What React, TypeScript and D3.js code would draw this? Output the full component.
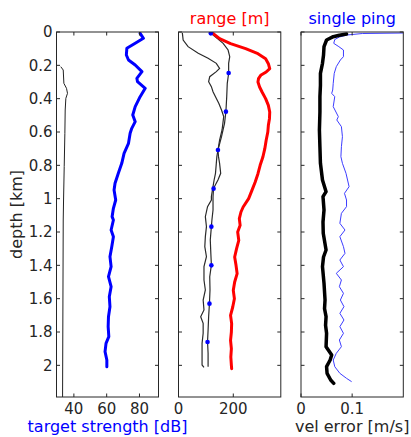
import React from 'react';
import * as d3 from 'd3';

// ---- data (depth km, value) ----
const depthTicks = [0, 0.2, 0.4, 0.6, 0.8, 1, 1.2, 1.4, 1.6, 1.8, 2];
const depthTickLabels = ['0', '0.2', '0.4', '0.6', '0.8', '1', '1.2', '1.4', '1.6', '1.8', '2'];

const tsTicks = [40, 60, 80];
const rangeTicks = [0, 200];
const velTicks = [0, 0.1];
const velTickLabels = ['0', '0.1'];

const targetStrength: [number, number][] = [
  [0.008, 80.4], [0.038, 82.4], [0.068, 77.4], [0.098, 72.3], [0.138, 72], [0.168, 73.3],
  [0.198, 77.4], [0.238, 81.5], [0.278, 78.4], [0.298, 78.8], [0.338, 83.5], [0.388, 80.4],
  [0.448, 77.4], [0.498, 75.9], [0.538, 77.4], [0.578, 75.3], [0.608, 74.3], [0.668, 73.3],
  [0.728, 70.6], [0.788, 69.2], [0.848, 67.1], [0.908, 65.1], [0.948, 64.5], [1.008, 65.5],
  [1.058, 64.1], [1.108, 63.3], [1.128, 64.1], [1.188, 62.7], [1.228, 64.1], [1.288, 63.1],
  [1.348, 62], [1.408, 62.7], [1.468, 61.1], [1.528, 62.7], [1.588, 61.6], [1.648, 62],
  [1.708, 61.1], [1.768, 60.9], [1.828, 61.3], [1.868, 59.6], [1.918, 59], [1.968, 60.1],
  [2.008, 60.1],
];

const tsThin: [number, number][] = [
  [0.208, 32.0], [0.228, 33.5], [0.308, 33.9], [0.338, 35.5], [0.368, 36.1], [0.398, 35.1],
  [0.468, 34.7], [0.608, 34.5], [0.808, 34.1], [1.008, 33.7], [1.128, 33.5], [2.19, 33.1],
];

const rangeRed: [number, number][] = [
  [0.01, 127], [0.04, 150], [0.07, 190], [0.1, 245], [0.13, 290], [0.16, 318], [0.19, 328],
  [0.22, 333], [0.24, 320], [0.26, 300], [0.28, 292], [0.3, 290], [0.33, 296], [0.36, 305],
  [0.4, 318], [0.44, 328], [0.48, 333], [0.52, 332], [0.56, 328], [0.6, 326], [0.65, 320],
  [0.7, 315], [0.75, 308], [0.8, 298], [0.85, 290], [0.9, 280], [0.95, 268], [1.0, 256],
  [1.05, 236], [1.08, 228], [1.12, 222], [1.16, 225], [1.2, 216], [1.25, 220], [1.3, 212],
  [1.35, 205], [1.4, 210], [1.45, 214], [1.5, 205], [1.55, 200], [1.6, 204], [1.65, 198],
  [1.7, 190], [1.75, 194], [1.8, 193], [1.85, 190], [1.9, 193], [1.95, 191], [2.0, 193],
  [2.02, 194],
];

const rangeA: [number, number][] = [
  [0.008, 118], [0.025, 132], [0.068, 163], [0.108, 181], [0.148, 187], [0.188, 183],
  [0.248, 183], [0.308, 178], [0.388, 176], [0.478, 173], [0.548, 168], [0.628, 157],
  [0.708, 144], [0.748, 146], [0.788, 150], [0.848, 154], [0.888, 144], [0.938, 128],
  [0.988, 126], [1.068, 126], [1.128, 122], [1.168, 120], [1.248, 116], [1.328, 118],
  [1.398, 120], [1.468, 114], [1.548, 115], [1.628, 113], [1.708, 110], [1.788, 108],
  [1.858, 106], [1.928, 108], [2.008, 108],
];

const rangeB: [number, number][] = [
  [0.005, 14], [0.048, 17], [0.088, 35], [0.128, 72], [0.158, 108], [0.188, 138], [0.218, 150],
  [0.238, 138], [0.268, 114], [0.298, 110], [0.328, 120], [0.358, 126], [0.388, 135],
  [0.428, 147], [0.468, 157], [0.508, 165], [0.548, 162], [0.588, 159], [0.648, 150],
  [0.708, 144], [0.748, 140], [0.788, 138], [0.848, 135], [0.888, 130], [0.928, 126],
  [0.988, 120], [1.008, 120], [1.048, 106], [1.108, 98], [1.168, 102], [1.228, 98],
  [1.288, 96], [1.348, 102], [1.408, 93], [1.488, 93], [1.548, 98], [1.608, 90], [1.668, 93],
  [1.708, 81], [1.748, 90], [1.808, 90], [1.868, 86], [1.928, 86], [1.998, 86], [2.012, 93],
];

const rangeDots: [number, number][] = [
  [0.008, 118], [0.246, 183], [0.478, 173], [0.708, 144], [0.94, 128], [1.168, 120],
  [1.4, 120], [1.63, 113], [1.86, 106],
];

const velThick: [number, number][] = [
  [0.012, 0.089], [0.02, 0.075], [0.028, 0.063], [0.048, 0.05], [0.088, 0.045], [0.14, 0.044],
  [0.188, 0.042], [0.248, 0.038], [0.32, 0.038], [0.388, 0.037], [0.48, 0.037], [0.588, 0.036],
  [0.69, 0.037], [0.788, 0.038], [0.888, 0.042], [0.958, 0.049], [0.988, 0.043], [1.068, 0.045],
  [1.14, 0.043], [1.208, 0.0435], [1.308, 0.049], [1.35, 0.044], [1.408, 0.042], [1.508, 0.045],
  [1.608, 0.047], [1.66, 0.046], [1.708, 0.049], [1.76, 0.048], [1.808, 0.05], [1.888, 0.049],
  [1.938, 0.06], [1.968, 0.057], [2.008, 0.05], [2.048, 0.051], [2.088, 0.058], [2.108, 0.064],
];

const velThin: [number, number][] = [
  [0.006, 0.2], [0.009, 0.12], [0.018, 0.09], [0.03, 0.075], [0.045, 0.066], [0.068, 0.064],
  [0.088, 0.074], [0.108, 0.083], [0.148, 0.083], [0.168, 0.077], [0.208, 0.069],
  [0.248, 0.065], [0.308, 0.063], [0.348, 0.062], [0.368, 0.06], [0.388, 0.066],
  [0.448, 0.063], [0.508, 0.073], [0.528, 0.07], [0.568, 0.079], [0.628, 0.081],
  [0.688, 0.079], [0.748, 0.078], [0.788, 0.081], [0.848, 0.088], [0.888, 0.091],
  [0.928, 0.094], [0.968, 0.085], [1.008, 0.089], [1.048, 0.089], [1.088, 0.079],
  [1.148, 0.076], [1.188, 0.086], [1.228, 0.076], [1.288, 0.083], [1.328, 0.086],
  [1.368, 0.076], [1.408, 0.083], [1.448, 0.069], [1.488, 0.079], [1.528, 0.075],
  [1.568, 0.083], [1.608, 0.077], [1.648, 0.084], [1.688, 0.076], [1.728, 0.084],
  [1.768, 0.076], [1.808, 0.083], [1.848, 0.075], [1.888, 0.079], [1.928, 0.069],
  [1.968, 0.063], [2.008, 0.066], [2.048, 0.076], [2.078, 0.089], [2.098, 0.099],
];

// ---- layout ----
const W = 411;
const H = 437;
const TOP = 32;
const BOTTOM = 397;
const FONT = 'DejaVu Sans, sans-serif';
const AX = '#262626';

const y = d3.scaleLinear().domain([0, 2.19]).range([TOP, BOTTOM]);

const x1 = d3.scaleLinear().domain([29.4, 91.6]).range([56.5, 158.5]);
const x2 = d3.scaleLinear().domain([0, 373.4]).range([178.5, 280.8]);
const x3 = d3.scaleLinear().domain([0, 0.2]).range([301, 403.3]);

type Scale = d3.ScaleLinear<number, number>;

function mkLine(xs: Scale) {
  return d3
    .line<[number, number]>()
    .x((d) => xs(d[1]))
    .y((d) => y(d[0]));
}

function Frame({ xs, ticks, labels, id }: { xs: Scale; ticks: number[]; labels: string[]; id: string }) {
  const [l, r] = xs.range();
  const tl = 3.5;
  return (
    <g>
      <rect x={l} y={TOP} width={r - l} height={BOTTOM - TOP} fill="none" stroke={AX} strokeWidth={1} />
      {depthTicks.map((t) => (
        <g key={id + 'y' + t}>
          <line x1={l} x2={l + tl} y1={y(t)} y2={y(t)} stroke={AX} />
          <line x1={r} x2={r - tl} y1={y(t)} y2={y(t)} stroke={AX} />
        </g>
      ))}
      {ticks.map((t, i) => (
        <g key={id + 'x' + t}>
          <line x1={xs(t)} x2={xs(t)} y1={BOTTOM} y2={BOTTOM - tl} stroke={AX} />
          <line x1={xs(t)} x2={xs(t)} y1={TOP} y2={TOP + tl} stroke={AX} />
          <text x={xs(t)} y={414} textAnchor="middle" fontSize={15} fill={AX} fontFamily={FONT}>
            {labels[i]}
          </text>
        </g>
      ))}
    </g>
  );
}

export default function App() {
  const l1 = mkLine(x1);
  const l2 = mkLine(x2);
  const l3 = mkLine(x3);
  return (
    <svg
      width={W}
      height={H}
      viewBox={`0 0 ${W} ${H}`}
      style={{ position: 'absolute', left: 0, top: 0, background: '#fff' }}
    >
      <defs>
        {[x1, x2, x3].map((xs, i) => (
          <clipPath id={'clip' + i} key={i}>
            <rect x={xs.range()[0]} y={TOP} width={xs.range()[1] - xs.range()[0]} height={BOTTOM - TOP} />
          </clipPath>
        ))}
      </defs>
      <rect x={0} y={0} width={W} height={H} fill="#fff" />

      {/* panel 1 */}
      <g clipPath="url(#clip0)">
        <path d={l1(tsThin) || ''} fill="none" stroke="#222" strokeWidth={1} />
        <path d={l1(targetStrength) || ''} fill="none" stroke="#0000ff" strokeWidth={3} strokeLinejoin="round" strokeLinecap="round" />
      </g>
      <Frame xs={x1} ticks={tsTicks} labels={tsTicks.map(String)} id="p1" />

      {/* panel 2 */}
      <g clipPath="url(#clip1)">
        <path d={l2(rangeB) || ''} fill="none" stroke="#2a2a2a" strokeWidth={1.2} />
        <path d={l2(rangeA) || ''} fill="none" stroke="#2a2a2a" strokeWidth={1.2} />
        <path d={l2(rangeRed) || ''} fill="none" stroke="#ff0000" strokeWidth={3} strokeLinejoin="round" strokeLinecap="round" />
        {rangeDots.map((d, i) => (
          <circle key={i} cx={x2(d[1])} cy={y(d[0])} r={2.3} fill="#0000ff" />
        ))}
      </g>
      <Frame xs={x2} ticks={rangeTicks} labels={rangeTicks.map(String)} id="p2" />

      {/* panel 3 */}
      <g clipPath="url(#clip2)">
        <path d={l3(velThin) || ''} fill="none" stroke="#3d3dff" strokeWidth={1} />
        <path d={l3(velThick) || ''} fill="none" stroke="#000" strokeWidth={3.5} strokeLinejoin="round" strokeLinecap="round" />
      </g>
      <Frame xs={x3} ticks={velTicks} labels={velTickLabels} id="p3" />

      {/* y tick labels */}
      {depthTicks.map((t, i) => (
        <text key={'yl' + t} x={52.5} y={y(t)} dy="0.35em" textAnchor="end" fontSize={15} fill={AX} fontFamily={FONT}>
          {depthTickLabels[i]}
        </text>
      ))}

      {/* labels */}
      <text
        transform={`translate(22,${(TOP + BOTTOM) / 2}) rotate(-90)`}
        textAnchor="middle"
        fontSize={16}
        fill={AX}
        fontFamily={FONT}
      >
        depth [km]
      </text>
      <text x={(x1.range()[0] + x1.range()[1]) / 2} y={432} textAnchor="middle" fontSize={16} fill="#0000ff" fontFamily={FONT}>
        target strength [dB]
      </text>
      <text x={(x3.range()[0] + x3.range()[1]) / 2} y={432} textAnchor="middle" fontSize={16} fill={AX} fontFamily={FONT}>
        vel error [m/s]
      </text>
      <text x={(x2.range()[0] + x2.range()[1]) / 2} y={23.5} textAnchor="middle" fontSize={16} fill="#ff0000" fontFamily={FONT}>
        range [m]
      </text>
      <text x={(x3.range()[0] + x3.range()[1]) / 2} y={23.5} textAnchor="middle" fontSize={16} fill="#0000ff" fontFamily={FONT}>
        single ping
      </text>
    </svg>
  );
}
